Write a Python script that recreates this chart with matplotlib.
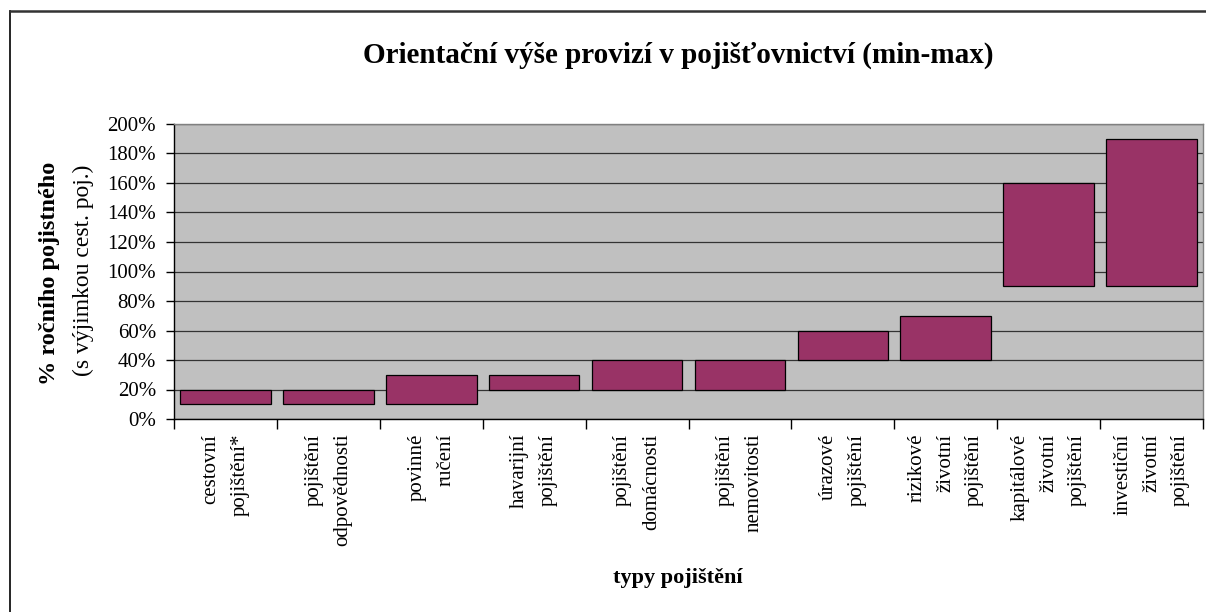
import matplotlib.pyplot as plt
from matplotlib.lines import Line2D
from matplotlib.ticker import FuncFormatter

categories = [
    "cestovní\npojištění*",
    "pojištění\nodpovědnosti",
    "povinné\nručení",
    "havarijní\npojištění",
    "pojištění\ndomácnosti",
    "pojištění\nnemovitosti",
    "úrazové\npojištění",
    "rizikové\nživotní\npojištění",
    "kapitálové\nživotní\npojištění",
    "investiční\nživotní\npojištění",
]
min_pct = [10, 10, 10, 20, 20, 20, 40, 40, 90, 90]
max_pct = [20, 20, 30, 30, 40, 40, 60, 70, 160, 190]

plt.rcParams['font.family'] = ['Liberation Serif', 'DejaVu Serif']

fig = plt.figure(figsize=(12.06, 6.12), dpi=100)
ax = fig.add_axes([174 / 1206, 1 - 419 / 612, (1203 - 174) / 1206, (419 - 124) / 612])

x = list(range(len(categories)))
heights = [hi - lo for lo, hi in zip(min_pct, max_pct)]
ax.bar(x, heights, bottom=min_pct, width=0.88, color='#993366',
       edgecolor='black', linewidth=0.9, zorder=3)

ax.set_facecolor('#C0C0C0')
ax.set_xlim(-0.5, len(categories) - 0.5)
ax.set_ylim(0, 200)
ax.set_yticks(range(0, 201, 20))
ax.yaxis.set_major_formatter(FuncFormatter(lambda v, p: f"{int(v)}%"))
ax.grid(axis='y', color='#333333', linewidth=0.9, zorder=1)
ax.tick_params(axis='y', direction='out', length=6, width=1, labelsize=15, pad=7)

# category boundaries as ticks, labels at centers
ax.set_xticks([i - 0.5 for i in range(len(categories) + 1)])
ax.set_xticklabels([])
ax.tick_params(axis='x', direction='out', length=7, width=1)
for i, lab in enumerate(categories):
    ax.text(i, -10, lab, rotation=90, ha='center', va='top',
            multialignment='right', fontsize=15, linespacing=1.7)

for s in ['left', 'bottom']:
    ax.spines[s].set_color('black')
    ax.spines[s].set_linewidth(1)
for s in ['top', 'right']:
    ax.spines[s].set_color('#808080')
    ax.spines[s].set_linewidth(1)

fig.text(678 / 1206, 1 - 55 / 612, "Orientační výše provizí v pojišťovnictví (min-max)",
         ha='center', va='center', fontsize=21, fontweight='bold')
fig.text(50 / 1206, 1 - 273 / 612, "% ročního pojistného", rotation=90,
         ha='center', va='center', fontsize=17.5, fontweight='bold')
fig.text(83 / 1206, 1 - 270 / 612, "(s výjimkou cest. poj.)", rotation=90,
         ha='center', va='center', fontsize=17)
fig.text(678 / 1206, 1 - 578 / 612, "typy pojištění",
         ha='center', va='center', fontsize=16, fontweight='bold')

# outer chart frame
fig.add_artist(Line2D([10 / 1206, 10 / 1206], [0, 1 - 11 / 612],
                      transform=fig.transFigure, color='black', linewidth=1.2))
fig.add_artist(Line2D([10 / 1206, 1], [1 - 11 / 612, 1 - 11 / 612],
                      transform=fig.transFigure, color='#333333', linewidth=1.8))

fig.savefig('out.png', dpi=100)
